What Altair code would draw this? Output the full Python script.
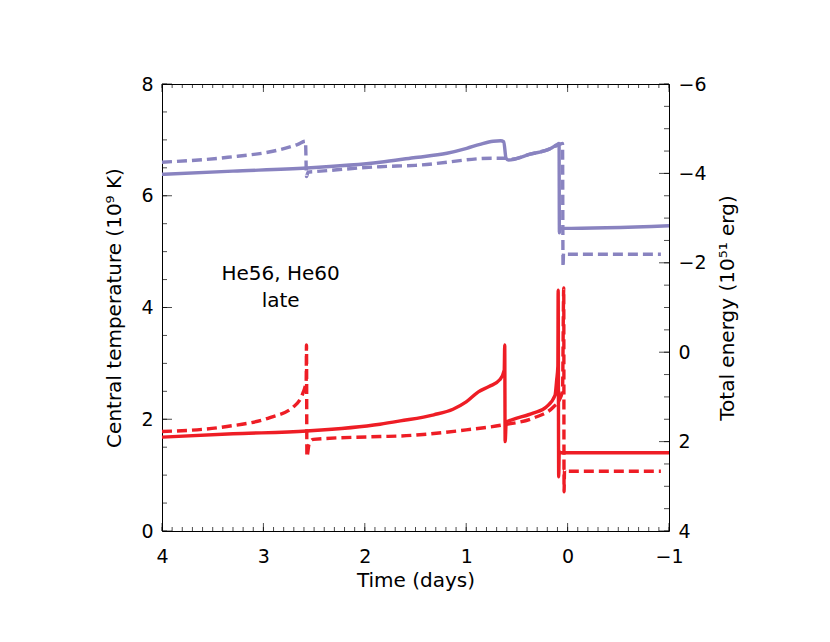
import altair as alt
import pandas as pd

# ---------------- data ----------------
# Central temperature (10^9 K), left axis
red_solid_t = [4.0, 3.3, 2.57, 1.85, 1.65, 1.32, 1.13, 1.0, 0.88, 0.77, 0.667, 0.625,
               0.620, 0.616, 0.605, 0.55, 0.34, 0.21, 0.124, 0.108, 0.096,
               0.093, 0.088, 0.082, 0.07, -1.0]
red_solid_v = [1.68, 1.74, 1.79, 1.91, 1.97, 2.08, 2.18, 2.31, 2.49, 2.59, 2.71, 2.88,
               3.33, 1.60, 1.95, 1.99, 2.11, 2.22, 2.43, 2.70, 2.95,
               4.31, 0.97, 1.42, 1.40, 1.40]

red_dash_t = [4.0, 3.36, 2.935, 2.705, 2.606, 2.578, 2.575, 2.571, 2.55, 2.508, 1.85,
              1.65, 1.0, 0.634, 0.34, 0.14, 0.08, 0.05, 0.038, 0.035, 0.030, 0.02, -0.92]
red_dash_v = [1.78, 1.87, 2.03, 2.22, 2.49, 2.70, 3.33, 1.33, 1.55, 1.64, 1.69,
              1.70, 1.81, 1.90, 2.02, 2.22, 2.35, 2.52, 4.35, 0.70, 1.10, 1.07, 1.07]

# Total energy (10^51 erg), right axis
pur_solid_t = [4.0, 3.3, 2.57, 1.85, 1.52, 1.19, 0.995, 0.864, 0.733, 0.66, 0.63,
               0.607, 0.585, 0.37, 0.174, 0.108, 0.084, 0.081, 0.072, 0.06, -1.0]
pur_solid_v = [-3.98, -4.05, -4.12, -4.25, -4.35, -4.45, -4.56, -4.65, -4.72, -4.73, -4.71,
               -4.34, -4.30, -4.43, -4.55, -4.64, -4.67, -2.67, -2.77, -2.77, -2.83]

pur_dash_t = [4.0, 3.35, 2.86, 2.66, 2.585, 2.575, 2.56, 2.5, 1.85, 1.5, 0.733, 0.62,
              0.55, 0.37, 0.174, 0.108, 0.05, 0.045, 0.040, 0.030, -0.92]
pur_dash_v = [-4.25, -4.36, -4.52, -4.65, -4.72, -3.93, -4.03, -4.04, -4.15, -4.18, -4.34, -4.34,
              -4.32, -4.43, -4.55, -4.62, -4.67, -1.91, -2.21, -2.19, -2.19]

x_major = [4, 3, 2, 1, 0, -1]
x_minor = [round(-1 + 0.1 * k, 1) for k in range(51)]
yl_major = [0, 2, 4, 6, 8]
yl_minor = [0.5 * k for k in range(17)]
yr_major = [-6, -4, -2, 0, 2, 4]
yr_minor = [-6 + 0.5 * k for k in range(21)]

note_text = ["He56, He60", "late"]
note_t = [2.83, 2.83]
note_v = [4.49, 4.01]

RED = "#ee1d25"
PURPLE = "#8983c0"
W, H = 507, 447
FONT = "DejaVu Sans"


def series(t, v):
    return pd.DataFrame({"t": t, "v": v, "i": list(range(len(t)))})


xscale = alt.Scale(domain=[-1, 4], reverse=True, nice=False, zero=False)
ylscale = alt.Scale(domain=[0, 8], nice=False, zero=False)
yrscale = alt.Scale(domain=[-6, 4], reverse=True, nice=False, zero=False)

# the same x axis definition on every layer, so that the shared axis merges cleanly
x_axis = alt.Axis(orient="bottom", values=x_major, title="Time (days)", labelPadding=16,
                  labelFlush=False, titleY=55, titleBaseline="alphabetic")
yl_axis = alt.Axis(orient="left", values=yl_major, title="Central temperature (10⁹ K)",
                   labelPadding=9, labelFlush=False, titleAngle=270, titleX=-42, titleY=H / 2,
                   titleAlign="center", titleBaseline="alphabetic")
yr_axis = alt.Axis(orient="right", values=yr_major, title="Total energy (10⁵¹ erg)",
                   labelPadding=9, labelFlush=False, titleAngle=270, titleX=64, titleY=H / 2,
                   titleAlign="center", titleBaseline="alphabetic")


def line(t, v, color, dash, yscale, yaxis):
    kw = dict(color=color, strokeWidth=3.4, strokeCap="butt", strokeJoin="round",
              interpolate="monotone")
    if dash:
        kw["strokeDash"] = [10, 5]
    return alt.Chart(series(t, v)).mark_line(**kw).encode(
        x=alt.X("t:Q", scale=xscale, axis=x_axis),
        y=alt.Y("v:Q", scale=yscale, axis=yaxis),
        order=alt.Order("i:Q"),
    )


def xticks(vals, size, top):
    ypos = size / 2 if top else H - size / 2
    return alt.Chart(pd.DataFrame({"v": vals})).mark_tick(
        size=size, thickness=1, color="black").encode(
        x=alt.X("v:Q", scale=xscale, axis=x_axis), y=alt.value(ypos))


def yticks(vals, size, scale, right):
    xpos = W - size / 2 if right else size / 2
    return alt.Chart(pd.DataFrame({"v": vals})).mark_tick(
        size=size, thickness=1, color="black").encode(
        y=alt.Y("v:Q", scale=scale, axis=None), x=alt.value(xpos))


note = alt.Chart(pd.DataFrame({"t": note_t, "v": note_v, "s": note_text})).mark_text(
    font=FONT, fontSize=20, color="black", align="center", baseline="alphabetic").encode(
    x=alt.X("t:Q", scale=xscale, axis=x_axis),
    y=alt.Y("v:Q", scale=ylscale, axis=None),
    text="s:N")

chart = alt.layer(
    line(red_solid_t, red_solid_v, RED, False, ylscale, yl_axis),
    line(red_dash_t, red_dash_v, RED, True, ylscale, None),
    line(pur_solid_t, pur_solid_v, PURPLE, False, yrscale, yr_axis),
    line(pur_dash_t, pur_dash_v, PURPLE, True, yrscale, None),
    xticks(x_minor, 4, False), xticks(x_major, 8, False),
    xticks(x_minor, 4, True), xticks(x_major, 8, True),
    yticks(yl_minor, 5, ylscale, False), yticks(yl_major, 10, ylscale, False),
    yticks(yr_minor, 5, yrscale, True), yticks(yr_major, 10, yrscale, True),
    note,
).resolve_scale(y="independent").properties(
    width=W, height=H,
    autosize=alt.AutoSizeParams(type="none"),
    padding={"left": 154, "top": 76, "right": 153, "bottom": 103},
    background="white",
).configure_view(stroke="black", strokeWidth=1).configure_axis(
    ticks=False, domain=False, grid=False,
    labelFont=FONT, labelFontSize=19, labelColor="black",
    titleFont=FONT, titleFontSize=20, titleFontWeight="normal", titleColor="black",
)

chart.save("out.html", embed_options={"renderer": "svg", "actions": False})
